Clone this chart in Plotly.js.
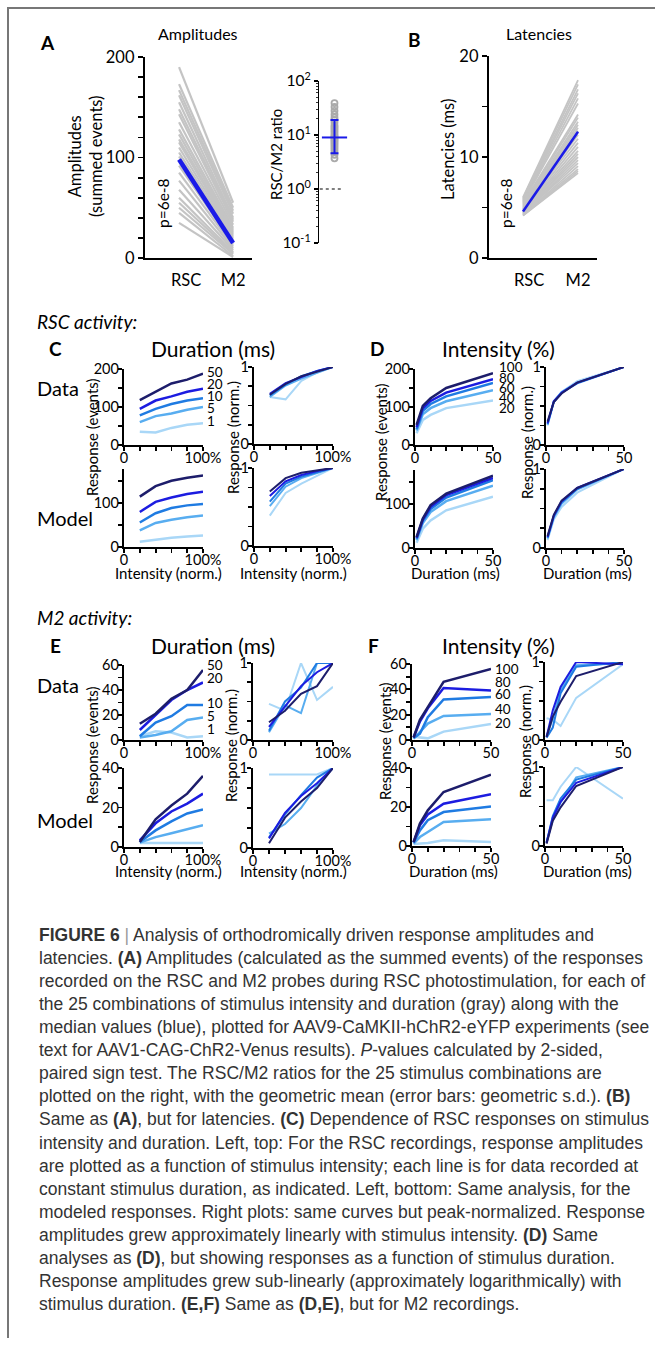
<!DOCTYPE html>
<html><head><meta charset="utf-8">
<script src="https://cdn.plot.ly/plotly-3.0.1.min.js"></script>
<style>html,body{margin:0;padding:0;background:#fff;}#fig{width:655px;height:1345px;}</style>
</head><body><div id="fig"></div>
<script>
// ---------------- DATA ----------------
const groupLabels = ['RSC', 'M2'];
// Panel A: amplitudes (summed events), 25 stimulus combinations
const ampRSC = [190,173,167,162,155,148,143,135,128,123,118,115,110,105,101,98,92,85,77,68,60,55,50,45,35];
const ampM2  = [55,50,47,44,40,38,36,33,30,28,26,24,22,20,18,16,14,12,10,8,6,5,4,2,1];
const ampMedian = [98, 15];
// RSC/M2 ratios
const ratioValues = [39,33,28,24,21,19,17,15,14,13,12,11,10,9.5,9,8.5,8,7.5,7,6.5,6,5.5,5,4.3,3.7];
const ratioGeoMean = [9.0];
const ratioGeoLow = [4.6];
const ratioGeoHigh = [19];
const unityRatio = [1, 1];
// Panel B: latencies (ms)
const latRSC = [6.0,5.9,5.8,5.7,5.6,5.5,5.4,5.3,5.2,5.1,5.0,4.9,4.8,4.8,4.7,4.6,4.6,4.5,4.5,4.4,4.4,4.3,4.3,4.2,4.2];
const latM2  = [17.6,17.2,16.7,16.3,15.8,15.3,14.2,13.9,13.5,13.2,12.9,12.6,12.2,11.8,11.4,11.0,10.6,10.3,10.0,9.7,9.4,9.1,8.8,8.6,8.4];
const latMedian = [4.6, 12.5];

const intensityLevels = [20, 40, 60, 80, 100];   // % (x in C, E)
const durationLevels  = [1, 5, 10, 20, 50];      // ms (x in D, F)
const durationLabels  = ['50', '20', '10', '5', '1'];
const intensityLabels = ['100', '80', '60', '40', '20'];

// C: RSC, vs intensity, one line per duration (50,20,10,5,1)
const rscIntData      = [[118,140,162,172,188],[95,117,128,140,148],[78,95,108,117,123],[60,76,83,93,100],[35,33,45,53,57]];
const rscIntDataNorm  = [[0.64,0.78,0.88,0.94,1],[0.65,0.79,0.87,0.95,1],[0.63,0.77,0.88,0.95,1],[0.61,0.76,0.85,0.93,1],[0.61,0.58,0.82,0.93,1]];
const rscIntModel     = [[115,139,151,158,163],[80,103,113,121,126],[56,77,89,95,98],[38,55,62,68,72],[12,17,21,24,26]];
const rscIntModelNorm = [[0.70,0.87,0.94,0.97,1],[0.64,0.83,0.91,0.96,1],[0.57,0.80,0.89,0.95,1],[0.51,0.76,0.87,0.93,1],[0.39,0.68,0.80,0.90,1]];
// D: RSC, vs duration, one line per intensity (100,80,60,40,20)
const rscDurData      = [[53,103,123,150,189],[47,97,116,138,173],[42,90,108,128,163],[38,81,97,115,144],[31,66,79,97,117]];
const rscDurDataNorm  = [[0.30,0.55,0.66,0.80,1],[0.28,0.56,0.67,0.80,1],[0.27,0.55,0.67,0.79,1],[0.26,0.56,0.68,0.80,1],[0.25,0.55,0.68,0.82,1]];
const rscDurModel     = [[25,67,98,124,165],[23,65,94,121,160],[21,62,89,115,155],[18,57,82,107,142],[12,44,63,86,117]];
const rscDurModelNorm = [[0.15,0.42,0.60,0.76,1],[0.14,0.41,0.59,0.76,1],[0.13,0.40,0.58,0.75,1],[0.12,0.39,0.56,0.74,1],[0.10,0.36,0.52,0.70,1]];
// E: M2, vs intensity
const m2IntData      = [[13,21,33,40,56],[8,20,32,40,46],[3,14,19,28,28],[2,4,7,16,18],[3,7,6,2,3]];
const m2IntDataNorm  = [[0.23,0.38,0.60,0.70,1],[0.17,0.43,0.70,0.88,1],[0.12,0.50,0.68,1,1],[0.10,0.45,0.35,1,1],[0.47,0.38,1.0,0.52,0.69]];
const m2IntModel     = [[2.5,14,21,27,36],[3.4,12,18,22,27],[2.5,8.4,13,17,19],[2.2,5,7,9,11],[2,2,2,2,2]];
const m2IntModelNorm = [[0.06,0.38,0.58,0.75,1],[0.12,0.44,0.65,0.81,1],[0.13,0.42,0.66,0.88,1],[0.18,0.30,0.50,0.78,1],[0.92,0.92,0.92,0.92,1]];
// F: M2, vs duration
const m2DurData      = [[2,16,26,46,56],[2,14.5,25,41,39],[1.5,5,18,32,34],[1,6,13,19,20.5],[2.6,2,1.3,6.6,12.6]];
const m2DurDataNorm  = [[0.04,0.30,0.49,0.82,1],[0.04,0.38,0.68,1,0.97],[0.03,0.16,0.60,0.94,1],[0.04,0.28,0.64,0.96,0.98],[0.28,0.26,0.18,0.54,0.97]];
const m2DurModel     = [[2,11.5,18.3,27.7,36.6],[2,10.6,16.2,21.7,26.5],[1.7,8,13.2,17.4,20.3],[1.2,4.6,7.2,12.3,13.7],[1,1.2,1.5,2.9,2]];
const m2DurModelNorm = [[0.03,0.32,0.49,0.76,1],[0.04,0.36,0.56,0.80,1],[0.04,0.38,0.60,0.84,1],[0.05,0.33,0.55,0.87,1],[0.58,0.58,0.75,1,0.6]];

const captionLines = [
  '<b>FIGURE 6</b> <span style="color:#9a9a9a">|</span> Analysis of orthodromically driven response amplitudes and',
  'latencies. <b>(A)</b> Amplitudes (calculated as the summed events) of the responses',
  'recorded on the RSC and M2 probes during RSC photostimulation, for each of',
  'the 25 combinations of stimulus intensity and duration (gray) along with the',
  'median values (blue), plotted for AAV9-CaMKII-hChR2-eYFP experiments (see',
  'text for AAV1-CAG-ChR2-Venus results). <i>P</i>-values calculated by 2-sided,',
  'paired sign test. The RSC/M2 ratios for the 25 stimulus combinations are',
  'plotted on the right, with the geometric mean (error bars: geometric s.d.). <b>(B)</b>',
  'Same as <b>(A)</b>, but for latencies. <b>(C)</b> Dependence of RSC responses on stimulus',
  'intensity and duration. Left, top: For the RSC recordings, response amplitudes',
  'are plotted as a function of stimulus intensity; each line is for data recorded at',
  'constant stimulus duration, as indicated. Left, bottom: Same analysis, for the',
  'modeled responses. Right plots: same curves but peak-normalized. Response',
  'amplitudes grew approximately linearly with stimulus intensity. <b>(D)</b> Same',
  'analyses as <b>(D)</b>, but showing responses as a function of stimulus duration.',
  'Response amplitudes grew sub-linearly (approximately logarithmically) with',
  'stimulus duration. <b>(E,F)</b> Same as <b>(D,E)</b>, but for M2 recordings.'
];

// ---------------- DRAWING ----------------
const W = 655, H = 1345;
const FONT = 'Lato, "Open Sans", sans-serif';
const CAPFONT = '"Liberation Sans", Arial, sans-serif';
const shades = ['#1d1d6b', '#1c1ce0', '#1f7be2', '#58adf0', '#a9d7f7'];
const GRAY = '#c4c4c4', BLUE = '#1a1ae8';

const traces = [];
const layout = {
  width: W, height: H, margin: {l:0, r:0, t:0, b:0},
  paper_bgcolor: '#fff', plot_bgcolor: 'rgba(0,0,0,0)',
  showlegend: false, annotations: [], shapes: [], hovermode: false
};

function steps(a, b, s) { const o = []; for (let v = a; v <= b + 1e-9; v += s) o.push(+v.toFixed(4)); return o; }
function tickSet(vals, labeled, fmt) {
  return { tickmode: 'array', tickvals: vals,
    ticktext: vals.map(v => labeled.includes(v) ? (fmt ? fmt(v) : String(v)) : '') };
}
function baseAxis(o, fs) {
  return Object.assign({
    showgrid: false, zeroline: false, showline: true, linecolor: '#000', linewidth: 2.2,
    ticks: 'outside', ticklen: 4, tickwidth: 1.8, tickcolor: '#000',
    tickfont: {family: FONT, size: fs || 14.5, color: '#000'}, fixedrange: true
  }, o);
}
let axN = 0;
function panel(box, xo, yo, fs) {
  axN++;
  const id = axN === 1 ? '' : String(axN);
  layout['xaxis' + id] = baseAxis(Object.assign({domain: [box[0] / W, box[1] / W], anchor: 'y' + id}, xo), fs);
  layout['yaxis' + id] = baseAxis(Object.assign({domain: [1 - box[3] / H, 1 - box[2] / H], anchor: 'x' + id}, yo), fs);
  return {x: 'x' + id, y: 'y' + id};
}
function line(ids, xs, ys, color, width, extra) {
  traces.push(Object.assign({type: 'scatter', mode: 'lines', x: xs, y: ys, xaxis: ids.x, yaxis: ids.y,
    line: {color: color, width: width}, hoverinfo: 'skip', showlegend: false}, extra || {}));
}
function family(ids, xs, series, width) {
  for (let i = series.length - 1; i >= 0; i--) line(ids, xs, series[i], shades[i], width);
}
function ann(text, px, py, size, o) {
  const f = Object.assign({family: FONT, size: size, color: '#000'}, (o && o.font) || {});
  const a = Object.assign({text: text, x: px / W, y: 1 - py / H, xref: 'paper', yref: 'paper',
    showarrow: false, xanchor: 'center', yanchor: 'middle'}, o || {});
  a.font = f;
  layout.annotations.push(a);
}

// frame
layout.shapes.push({type: 'line', xref: 'paper', yref: 'paper', x0: 7 / W, x1: 1, y0: 1 - 8 / H, y1: 1 - 8 / H, line: {color: '#777', width: 2}});
layout.shapes.push({type: 'line', xref: 'paper', yref: 'paper', x0: 8 / W, x1: 8 / W, y0: 1 - 7 / H, y1: 1 - 1338 / H, line: {color: '#777', width: 2}});

// ---- Panel A
const pA = panel([145, 252, 57, 258],
  {range: [0.37, 2.35], ticks: '', tickmode: 'array', tickvals: [1.13, 2.0], ticktext: groupLabels, ticklabelstandoff: 6},
  Object.assign({range: [0, 200], ticklen: 5}, tickSet(steps(0, 200, 20), [0, 100, 200])), 16.5);
for (let i = 0; i < ampRSC.length; i++) line(pA, [1, 2], [ampRSC[i], ampM2[i]], GRAY, 2.2);
line(pA, [1, 2], ampMedian, BLUE, 4.5);

// ---- Ratio
const pR = panel([319, 350, 81, 243],
  {range: [-1, 1], visible: false, showline: false},
  {type: 'log', range: [-1, 2], linewidth: 1.2, tickwidth: 1.2, ticklen: 4, tickmode: 'array',
   tickvals: [0.1, 1, 10, 100], ticktext: ['10<sup>-1</sup>', '10<sup>0</sup>', '10<sup>1</sup>', '10<sup>2</sup>'],
   minor: {ticks: 'outside', ticklen: 2, tickwidth: 0.8, tickcolor: '#000', dtick: 'D1'}}, 15.5);
line(pR, [-0.95, 0.55], unityRatio, '#555', 1.5, {line: {color: '#555', width: 1.5, dash: 'dot'}});
traces.push({type: 'scatter', mode: 'markers', x: ratioValues.map(() => 0), y: ratioValues, xaxis: pR.x, yaxis: pR.y,
  marker: {symbol: 'circle-open', size: 6, color: '#aaa', line: {width: 1.8, color: '#aaa'}}, hoverinfo: 'skip', cliponaxis: false});
traces.push({type: 'scatter', mode: 'markers', x: [0], y: ratioGeoMean, xaxis: pR.x, yaxis: pR.y,
  marker: {symbol: 'line-ew', size: 18, color: BLUE, line: {width: 2, color: BLUE}},
  error_y: {type: 'data', symmetric: false, array: [ratioGeoHigh[0] - ratioGeoMean[0]], arrayminus: [ratioGeoMean[0] - ratioGeoLow[0]],
    color: BLUE, thickness: 2, width: 4}, hoverinfo: 'skip', cliponaxis: false});

// ---- Panel B
const pB = panel([489, 597, 56, 258],
  {range: [0.382, 2.345], ticks: '', tickmode: 'array', tickvals: [1.11, 2.0], ticktext: groupLabels, ticklabelstandoff: 6},
  Object.assign({range: [0, 20], ticklen: 5}, tickSet(steps(0, 20, 5), [0, 10, 20])), 16.5);
for (let i = 0; i < latRSC.length; i++) line(pB, [1, 2], [latRSC[i], latM2[i]], GRAY, 1.8);
line(pB, [1, 2], latMedian, BLUE, 2.5);

// axis configs for C-F (labels pulled close to the axis lines, as in the figure)
const XS = {ticklabelstandoff: -6};
const YS = {ticklabelstandoff: -4};
const xInt = Object.assign({range: [0, 100]}, XS, tickSet(steps(0, 100, 20), [0, 100], v => v === 100 ? '100%' : '0'));
const xDur = Object.assign({range: [0, 50]}, XS, tickSet(steps(0, 50, 10), [0, 50]));
const yRaw200 = Object.assign({range: [0, 200]}, YS, tickSet(steps(0, 200, 50), [0, 100, 200]));
const yRawMod = Object.assign({range: [0, 178]}, YS, tickSet(steps(0, 150, 50), [0, 100]));
const yNorm = Object.assign({range: [0, 1]}, YS, tickSet(steps(0, 1, 0.25), [0, 1]));
const yRaw60 = Object.assign({range: [0, 60]}, YS, tickSet(steps(0, 60, 10), [0, 20, 40, 60]));
const yRaw40 = Object.assign({range: [0, 40]}, YS, tickSet(steps(0, 40, 10), [0, 20, 40]));

// ---- C
family(panel([124, 203, 369, 445], xInt, yRaw200), intensityLevels, rscIntData, 2.5);
family(panel([254, 333, 367, 444], xInt, yNorm), intensityLevels, rscIntDataNorm, 2);
family(panel([124, 203, 469, 547], xInt, yRawMod), intensityLevels, rscIntModel, 2.5);
family(panel([254, 333, 468, 546], xInt, yNorm), intensityLevels, rscIntModelNorm, 2);
// ---- D
family(panel([415, 493, 369, 445], xDur, yRaw200), durationLevels, rscDurData, 2.5);
family(panel([546, 624, 367, 445], xDur, yNorm), durationLevels, rscDurDataNorm, 2);
family(panel([415, 493, 470, 548], xDur, yRawMod), durationLevels, rscDurModel, 2.5);
family(panel([546, 624, 469, 548], xDur, yNorm), durationLevels, rscDurModelNorm, 2);
// ---- E
family(panel([124, 203, 665, 740], xInt, yRaw60), intensityLevels, m2IntData, 2.5);
family(panel([253, 333, 663, 740], xInt, yNorm), intensityLevels, m2IntDataNorm, 2);
family(panel([124, 203, 768, 847], xInt, yRaw40), intensityLevels, m2IntModel, 2.5);
family(panel([253, 333, 768, 848], xInt, yNorm), intensityLevels, m2IntModelNorm, 2);
// ---- F
family(panel([412, 491, 664, 740], xDur, yRaw60), durationLevels, m2DurData, 2.5);
family(panel([545, 623, 662, 740], xDur, yNorm), durationLevels, m2DurDataNorm, 2);
family(panel([412, 491, 768, 846], xDur, yRaw40), durationLevels, m2DurModel, 2.5);
family(panel([545, 623, 767, 846], xDur, yNorm), durationLevels, m2DurModelNorm, 2);

// ---------------- TEXT ----------------
ann('<b>A</b>', 47, 42, 19);
ann('<b>B</b>', 415, 40, 19);
ann('<b>C</b>', 55, 349, 19);
ann('<b>D</b>', 377, 349, 19);
ann('<b>E</b>', 55, 645, 19);
ann('<b>F</b>', 373, 645, 19);
ann('Amplitudes', 198, 33, 16);
ann('Latencies', 539, 33, 16);
ann('Amplitudes<br>(summed events)', 86, 157, 16.5, {textangle: -90});
ann('p=6e-8', 163, 203, 15.5, {textangle: -90});
ann('RSC/M2 ratio', 276, 155, 15, {textangle: -90});
ann('Latencies (ms)', 448, 150, 16.5, {textangle: -90});
ann('p=6e-8', 506, 203, 15.5, {textangle: -90});

ann('<i>RSC activity:</i>', 35, 321, 19, {xanchor: 'left'});
ann('<i>M2 activity:</i>', 35, 617, 19, {xanchor: 'left'});
ann('Duration (ms)', 213, 349, 21);
ann('Intensity (%)', 498, 349, 21);
ann('Duration (ms)', 213, 645, 21);
ann('Intensity (%)', 498, 645, 21);
ann('Data', 35, 388, 20, {xanchor: 'left'});
ann('Model', 35, 518, 20, {xanchor: 'left'});
ann('Data', 35, 685, 20, {xanchor: 'left'});
ann('Model', 35, 820, 20, {xanchor: 'left'});

ann('Response (events)', 92, 438, 15, {textangle: -90});
ann('Response (norm.)', 233, 438, 15, {textangle: -90});
ann('Response (events)', 381, 443, 15, {textangle: -90});
ann('Response (norm.)', 527, 443, 15, {textangle: -90});
ann('Response (events)', 92, 746, 15, {textangle: -90});
ann('Response (norm.)', 231, 746, 15, {textangle: -90});
ann('Response (events)', 385, 742, 15, {textangle: -90});
ann('Response (norm.)', 525, 742, 15, {textangle: -90});

ann('Intensity (norm.)', 168, 573, 15);
ann('Intensity (norm.)', 293, 573, 15);
ann('Duration (ms)', 455, 573, 15);
ann('Duration (ms)', 587, 573, 15);
ann('Intensity (norm.)', 168, 871, 15);
ann('Intensity (norm.)', 293, 871, 15);
ann('Duration (ms)', 453, 871, 15);
ann('Duration (ms)', 587, 871, 15);

const cLabY = [372, 384, 396, 408, 421];
durationLabels.forEach((t, i) => ann(t, 205, cLabY[i], 13.5, {xanchor: 'left'}));
const dLabY = [367, 377.5, 388, 398, 408];
intensityLabels.forEach((t, i) => ann(t, 497, dLabY[i], 13.5, {xanchor: 'left'}));
const eLabY = [665, 678, 703, 716, 729];
durationLabels.forEach((t, i) => ann(t, 205, eLabY[i], 13.5, {xanchor: 'left'}));
const fLabY = [669, 682, 694, 709, 723];
intensityLabels.forEach((t, i) => ann(t, 493, fLabY[i], 13.5, {xanchor: 'left'}));

captionLines.forEach((t, i) => ann(t, 37, 935 + i * 23.06, 17.5,
  {xanchor: 'left', font: {family: CAPFONT, size: 17.5, color: '#333'}}));

Plotly.newPlot('fig', traces, layout, {staticPlot: true, displayModeBar: false});
</script>
</body></html>
